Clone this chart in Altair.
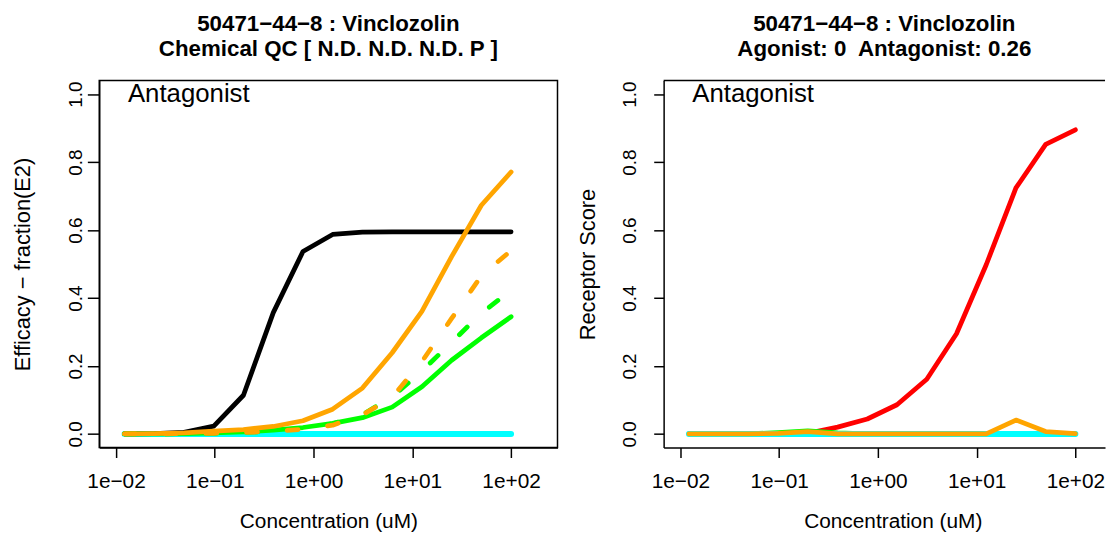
import altair as alt
import pandas as pd

FONT = "Liberation Sans"

# concentrations (uM)
conc = [0.0122, 0.0244, 0.0488, 0.0977, 0.195, 0.391, 0.781, 1.56, 3.125, 6.25, 12.5, 25, 50, 100]

# left panel series
left_cyan = [0, 0, 0, 0, 0, 0, 0, 0, 0, 0, 0, 0, 0, 0]
left_black = [0.0, 0.001, 0.005, 0.023, 0.114, 0.357, 0.537, 0.587, 0.594, 0.595, 0.595, 0.595, 0.595, 0.595]
left_green = [0.0, 0.0, 0.001, 0.003, 0.006, 0.011, 0.019, 0.031, 0.048, 0.079, 0.139, 0.217, 0.283, 0.345]
left_green_dash = [0.0, 0.0, 0.001, 0.002, 0.004, 0.009, 0.017, 0.030, 0.057, 0.109, 0.185, 0.270, 0.355, 0.423]
left_orange_dash = [0.0, 0.0, 0.001, 0.002, 0.004, 0.008, 0.014, 0.026, 0.056, 0.108, 0.213, 0.340, 0.465, 0.540]
left_orange = [0.0, 0.001, 0.003, 0.008, 0.013, 0.022, 0.039, 0.073, 0.135, 0.239, 0.361, 0.522, 0.673, 0.771]

# right panel series
right_cyan = [0, 0, 0, 0, 0, 0, 0, 0, 0, 0, 0, 0, 0, 0]
right_red = [0.0, 0.0, 0.0, 0.0, 0.002, 0.020, 0.044, 0.086, 0.161, 0.295, 0.498, 0.724, 0.852, 0.895]
right_green = [0.0, 0.0, 0.0, 0.004, 0.009, 0.003, 0.0, 0.0, 0.0, 0.0, 0.0, 0.0, 0.0, 0.0]
right_orange = [0.0, 0.0, 0.0, 0.002, 0.007, 0.0, 0.0, 0.0, 0.0, 0.0, 0.0, 0.041, 0.007, 0.001]

x_tick_values = [0.01, 0.1, 1, 10, 100]
x_tick_labels = ["1e\u221202", "1e\u221201", "1e+00", "1e+01", "1e+02"]
y_tick_values = [0.0, 0.2, 0.4, 0.6, 0.8, 1.0]

left_title = ["50471\u221244\u22128 : Vinclozolin", "Chemical QC [ N.D. N.D. N.D. P ]"]
right_title = ["50471\u221244\u22128 : Vinclozolin", "Agonist: 0\u00a0 Antagonist: 0.26"]
left_ytitle = "Efficacy \u2212 fraction(E2)"
right_ytitle = "Receptor Score"
xtitle = "Concentration (uM)"
note_text = "Antagonist"

H = 370
W_LEFT = 462
W_RIGHT = 445

# label expression built from the tick lists
parts = []
for v, lab in zip(x_tick_values[:-1], x_tick_labels[:-1]):
    parts.append(f"datum.value < {v * 3} ? '{lab}' : ")
label_expr = "".join(parts) + f"'{x_tick_labels[-1]}'"


def make_panel(series, title_lines, ytitle, width, xmax_log, ytick, ylabpad, boxed):
    X = alt.X(
        "conc:Q",
        scale=alt.Scale(type="log", domain=[10 ** -2.17, 10 ** xmax_log], nice=False),
        axis=alt.Axis(
            values=x_tick_values, labelExpr=label_expr, title=xtitle, grid=False,
            tickSize=10, tickWidth=1.5, tickColor="black",
            domainColor="black", domainWidth=1.5,
            labelFontSize=21, labelFont=FONT, labelColor="black", labelPadding=13,
            labelFlush=False, labelOverlap=False,
            titleFontSize=21, titleFont=FONT, titleFontWeight="normal", titleColor="black",
            titleX=231, titleY=81, titleBaseline="alphabetic",
            titleAlign="center",
        ),
    )
    Y = alt.Y(
        "value:Q",
        scale=alt.Scale(domain=[-0.04, 1.04], nice=False, zero=False),
        axis=alt.Axis(
            values=y_tick_values, format=".1f", grid=False,
            tickSize=ytick, tickWidth=1.5, tickColor="black",
            domainColor="black", domainWidth=1.5,
            labelAngle=270, labelAlign="center", labelBaseline="alphabetic",
            labelFontSize=19, labelFont=FONT, labelColor="black", labelPadding=ylabpad,
            labelFlush=False, labelOverlap=False,
            title=ytitle, titleFontSize=22, titleFont=FONT, titleFontWeight="normal",
            titleColor="black", titleAngle=270, titleX=-70, titleY=H / 2,
            titleAlign="center", titleBaseline="alphabetic",
        ),
    )
    layers = []
    for vals, color, dash, sw in series:
        d = pd.DataFrame({"conc": conc, "value": vals})
        kw = dict(color=color, strokeWidth=sw, strokeCap="round", strokeJoin="round")
        if dash:
            kw["strokeDash"] = dash
        layers.append(alt.Chart(d).mark_line(**kw).encode(x=X, y=Y))
    note = pd.DataFrame({"conc": [10 ** -1.88], "value": [0.976], "label": [note_text]})
    layers.append(
        alt.Chart(note).mark_text(align="left", baseline="alphabetic", fontSize=26,
                                  font=FONT, color="black").encode(x=X, y=Y, text="label:N")
    )
    if not boxed:
        top = pd.DataFrame({"a": [0]})
        layers.append(
            alt.Chart(top).mark_rule(color="black", strokeWidth=1.5).encode(
                x=alt.value(0), x2=alt.value(width), y=alt.value(0)
            )
        )
    view = alt.ViewBackground(stroke="black", strokeWidth=1.5) if boxed else \
        alt.ViewBackground(stroke="transparent")
    return alt.layer(*layers).properties(
        width=width, height=H, view=view,
        title=alt.TitleParams(text=title_lines, fontSize=22.5, fontWeight="bold", font=FONT,
                              color="black", anchor="middle", frame="group", offset=20,
                              lineHeight=25),
    )


left_series = [
    (left_cyan, "#00FFFF", None, 6),
    (left_black, "#000000", None, 4.8),
    (left_green, "#00FF00", None, 4.8),
    (left_green_dash, "#00FF00", [11, 30], 4.8),
    (left_orange_dash, "#FFA500", [11, 30], 4.8),
    (left_orange, "#FFA500", None, 4.8),
]
right_series = [
    (right_red, "#FF0000", None, 4.8),
    (right_green, "#00FF00", None, 4.8),
    (right_cyan, "#00FFFF", None, 6),
    (right_orange, "#FFA500", None, 4.8),
]

left = make_panel(left_series, left_title, left_ytitle, W_LEFT, 2.47, 12, 6, True)
right = make_panel(right_series, right_title, right_ytitle, W_RIGHT, 2.30, 10, 18, False)

chart = alt.hconcat(left, right, spacing=17).properties(
    padding={"left": 3, "top": 2, "right": 0, "bottom": 0},
    background="white",
)

chart.save("out.html", embed_options={"renderer": "svg", "actions": False})
